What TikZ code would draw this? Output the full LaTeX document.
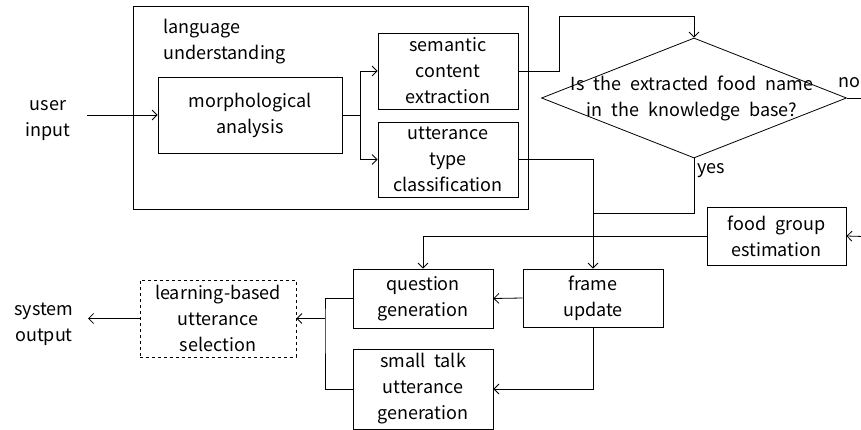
\documentclass[tikz,border=0pt]{standalone}
\usepackage{fontspec}
\setmainfont{Noto Sans CJK JP}
\usetikzlibrary{arrows.meta,shapes.geometric}
\begin{document}
\begin{tikzpicture}[x=1pt,y=-1pt,
  font={\fontsize{18}{26}\selectfont\spaceskip=0.5em\relax},
  line width=0.8pt,
  box/.style={draw, rectangle, inner sep=0pt, align=center},
  plain/.style={inner sep=0pt, align=center},
  arr/.style={-{Straight Barb[length=5pt,width=10pt,line width=0.8pt]}},
]
\useasboundingbox (0,0) rectangle (861,430);

% language understanding block
\node[box, minimum width=395, minimum height=203] (lu) at (330.5,107.5) {};
\node[plain, align=left, anchor=north west] (lulabel) at (163,19) {language\\understanding};
\node[box, minimum width=184, minimum height=76] (morph) at (250,115) {morphological\\analysis};
\node[box, minimum width=140, minimum height=76] (sem) at (448,71) {semantic\\content\\extraction};
\node[box, minimum width=140, minimum height=75] (utt) at (448,159.5) {utterance\\type\\classification};

% decision
\node[draw, diamond, inner sep=0pt, minimum width=305, minimum height=120] (dia) at (694,98) {};
\node[plain] (diatext) at (692,98) {Is the extracted food name\\in the knowledge base?};
\node[plain, anchor=east] (no) at (860.5,83) {no};
\node[plain, anchor=west] (yes) at (697,171) {yes};

% dialogue management and generation
\node[box, minimum width=139, minimum height=58] (food) at (776.5,236) {food group\\estimation};
\node[box, minimum width=140, minimum height=58] (frame) at (593,298) {frame\\update};
\node[box, minimum width=140, minimum height=59] (quest) at (423,298.5) {question\\generation};
\node[box, minimum width=140, minimum height=80] (small) at (423,389) {small talk\\utterance\\generation};
\node[box, dashed, minimum width=156, minimum height=77] (learn) at (218,318.5) {learning-based\\utterance\\selection};

% terminals
\node[plain] (uin) at (48,121) {user\\input};
\node[plain] (sout) at (44,324) {system\\output};
\coordinate (uinend) at (87,115);
\coordinate (soutend) at (88,318.5);

% connectors
\draw[arr] (uinend) -- (morph.west);
\coordinate (split) at (360,115);
\draw (morph.east) -- (split);
\draw[arr] (split) |- (sem.west);
\draw[arr] (split) |- (utt.west);
\draw[arr] (sem.east) -- (559,71) -- (559,16) -| (dia.north);
\draw (dia.east) -- (880,98) -- (880,237);
\draw[arr] (880,237) -- (food.east);
\coordinate (merge) at (593,213);
\draw (dia.south) |- (merge);
\draw[arr] (utt.east) -| (frame.north);
\draw[arr] (food.west) -| (quest.north);
\draw[arr] (frame.west) -- (quest.east);
\draw[arr] (frame.south) |- (small.east);
\coordinate (gather) at (325,318.5);
\draw (quest.west) -| (gather) |- (small.west);
\draw[arr] (gather) -- (learn.east);
\draw[arr] (learn.west) -- (soutend);
\end{tikzpicture}
\end{document}
